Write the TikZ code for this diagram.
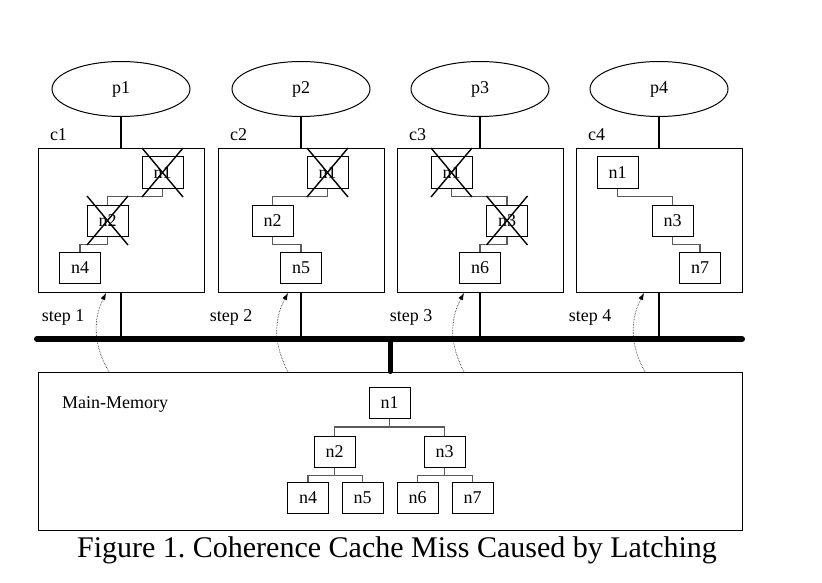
\documentclass[tikz,border=0pt]{standalone}
\usepackage{fontspec}
\setmainfont{Liberation Serif}
\usetikzlibrary{arrows.meta, positioning, calc, shapes.geometric}
\definecolor{linkgray}{RGB}{90, 90, 90}

\begin{document}
\begin{tikzpicture}[x=1pt, y=-1pt, font=\fontsize{18}{18}\selectfont,
        proc/.style={ellipse, draw, line width=1pt, minimum width=138pt, minimum height=55pt, inner sep=0pt},
        cache/.style={rectangle, draw, line width=1pt, minimum width=166pt, minimum height=143pt},
        n/.style={rectangle, draw, line width=1pt, minimum width=41pt, minimum height=31pt, inner sep=0pt},
        link/.style={draw=linkgray, line width=1.2pt},
        wire/.style={line width=1.3pt},
        xout/.style={line width=1.4pt},
        latch/.style={densely dotted, line width=0.6pt, -{Latex[length=7pt, width=5pt]}}]
        \useasboundingbox (0,0) rectangle (822,583);
        % processors and caches
        \foreach \i/\x in {1/121, 2/301, 3/480, 4/659} {
            \node[proc] (p\i) at (\x,89) {p\i};
            \node[cache] (c\i) at (\x,220.5) {};
            \node (lc\i) at ($(c\i.north west)+(21,-14)$) {c\i};
            \draw[wire] (p\i) -- (c\i);
        }
        % bus
        \coordinate (busW) at (37,339);
        \coordinate (busE) at (742,339);
        \draw[line width=6pt, line cap=round] (busW) -- (busE);
        \foreach \i in {1,...,4}
            \draw[wire] (c\i.south) -- (c\i.south |- busW);
        % main memory
        \node[rectangle, draw, line width=1pt, minimum width=704pt, minimum height=158pt] (mem) at (390,451) {};
        \draw[line width=5pt, line cap=round] (mem.north) -- (mem.north |- busW);
        \node[anchor=west, inner sep=0pt] (memlbl) at (62,404) {Main-Memory};
        \node[n] (m1) at (389.5,403) {n1};
        \node[n] (m2) at (334.5,451.5) {n2};
        \node[n] (m3) at (444.5,451.5) {n3};
        \node[n] (m4) at (308,498) {n4};
        \node[n] (m5) at (362.5,498) {n5};
        \node[n] (m6) at (417.5,498) {n6};
        \node[n] (m7) at (472.5,498) {n7};
        \foreach \a/\b in {m1/m2, m1/m3, m2/m4, m2/m5, m3/m6, m3/m7}
            \draw[link] (\a.south) -- ++(0,8) -| (\b.north);
        % cached copies
        \node[n] (c1n1) at (162.5,172.5) {n1};
        \node[n] (c1n2) at (107.5,220.5) {n2};
        \node[n] (c1n4) at (80,268) {n4};
        \node[n] (c2n1) at (327.5,172.5) {n1};
        \node[n] (c2n2) at (272.5,220.5) {n2};
        \node[n] (c2n5) at (301,268) {n5};
        \node[n] (c3n1) at (451.5,172.5) {n1};
        \node[n] (c3n3) at (507,220.5) {n3};
        \node[n] (c3n6) at (480,268) {n6};
        \node[n] (c4n1) at (617.5,172.5) {n1};
        \node[n] (c4n3) at (672.5,220.5) {n3};
        \node[n] (c4n7) at (700,268) {n7};
        \foreach \a/\b in {c1n1/c1n2, c1n2/c1n4, c2n1/c2n2, c2n2/c2n5,
                           c3n1/c3n3, c3n3/c3n6, c4n1/c4n3, c4n3/c4n7}
            \draw[link] (\a.south) -- ++(0,8) -| (\b.north);
        % invalidated copies
        \foreach \c in {c1n1, c1n2, c2n1, c3n1, c3n3} {
            \draw[xout] ($(\c.center)+(-20.5,-24.5)$) -- ($(\c.center)+(20.5,24.5)$);
            \draw[xout] ($(\c.center)+(-20.5,24.5)$) -- ($(\c.center)+(20.5,-24.5)$);
        }
        % steps
        \foreach \i/\lx/\ax/\tx in {1/63/109/106, 2/231/288/288, 3/411/464/464, 4/590/645/644} {
            \node (s\i) at (\lx,317) {step \i};
            \coordinate (from\i) at (\ax,372);
            \coordinate (to\i) at (\tx,293);
            \draw[latch] (from\i) to[bend left=28] (to\i);
        }
        \node (cap) at (397,550) {\fontsize{30}{30}\selectfont\frenchspacing Figure 1. Coherence Cache Miss Caused by Latching};
    \end{tikzpicture}
\end{document}
